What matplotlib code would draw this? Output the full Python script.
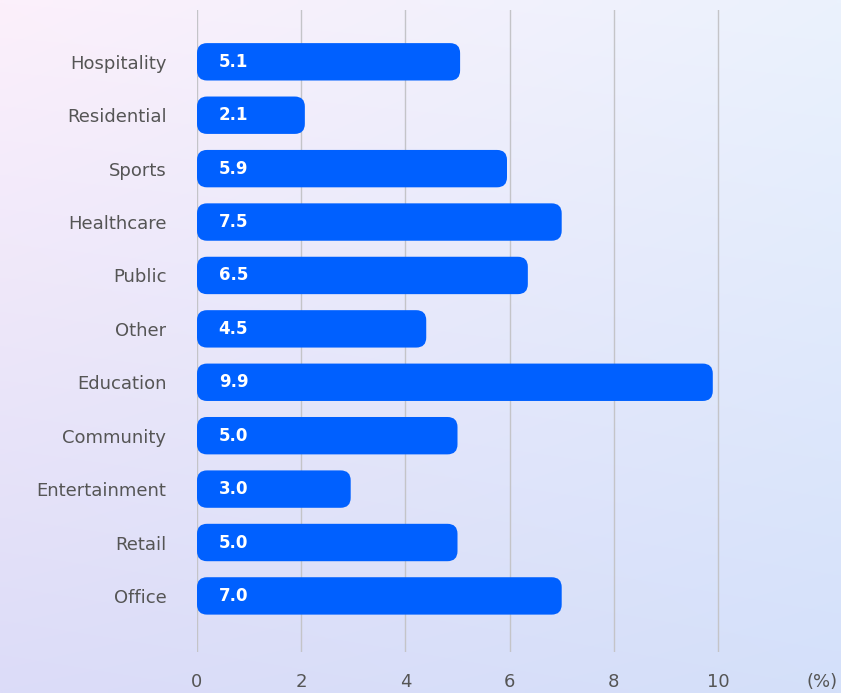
import numpy as np
import matplotlib
matplotlib.use("Agg")
import matplotlib.pyplot as plt
from matplotlib.patches import FancyBboxPatch

categories = ["Office", "Retail", "Entertainment", "Community", "Education", "Other",
              "Public", "Healthcare", "Sports", "Residential", "Hospitality"]
bar_values = [7.0, 5.0, 2.95, 5.0, 9.9, 4.4, 6.35, 7.0, 5.95, 2.07, 5.05]
value_labels = ["7.0", "5.0", "3.0", "5.0", "9.9", "4.5", "6.5", "7.5", "5.9", "2.1", "5.1"]
x_ticks = [0, 2, 4, 6, 8, 10]

plt.rcParams['font.family'] = ['DejaVu Sans']

W, H = 841, 693
fig = plt.figure(figsize=(W / 100, H / 100), dpi=100)

# gradient background
bg = fig.add_axes([0, 0, 1, 1], zorder=-10)
tl = np.array([252, 240, 251]) / 255
tr = np.array([235, 242, 253]) / 255
bl = np.array([220, 220, 248]) / 255
br = np.array([212, 224, 250]) / 255
ny, nx = 100, 100
yy, xx = np.mgrid[0:1:ny * 1j, 0:1:nx * 1j]
img = (tl[None, None, :] * ((1 - xx) * (1 - yy))[..., None]
       + tr[None, None, :] * (xx * (1 - yy))[..., None]
       + bl[None, None, :] * ((1 - xx) * yy)[..., None]
       + br[None, None, :] * (xx * yy)[..., None])
bg.imshow(img, aspect='auto', extent=[0, 1, 0, 1], interpolation='bilinear')
bg.axis('off')

px_per_x = 52.1
left = 197 / W
xmax = 11.0
width = xmax * px_per_x / W
bottom = 1 - 652 / H
top = 1 - 10 / H
ax = fig.add_axes([left, bottom, width, top - bottom])
ax.patch.set_alpha(0)
ax.set_xlim(0, xmax)
ax.set_ylim(-1.05, len(categories) - 1 + 0.97)

ypos = np.arange(len(categories))
bh = 0.70
px_per_y = (652 - 10) / (len(categories) - 1 + 0.97 + 1.05)
r = 10 / px_per_x
for y, v, lab in zip(ypos, bar_values, value_labels):
    p = FancyBboxPatch((0, y - bh / 2), v, bh,
                       boxstyle=f"round,pad=0,rounding_size={r}",
                       mutation_aspect=px_per_x / px_per_y,
                       facecolor="#0060FF", edgecolor="none", zorder=3)
    ax.add_patch(p)
    ax.text(0.70, y, lab, ha='center', va='center', color='white',
            fontsize=12, fontweight='bold', zorder=4)

ax.set_xticks(x_ticks)
ax.set_xticklabels([str(t) for t in x_ticks])
ax.set_yticks(ypos)
ax.set_yticklabels(categories)
ax.tick_params(axis='x', length=0, pad=15, labelsize=13, labelcolor='#555555')
ax.tick_params(axis='y', length=0, pad=22, labelsize=13, labelcolor='#555555')
ax.grid(axis='x', color='#c4c4c8', linewidth=1.0, zorder=0)
ax.set_axisbelow(True)
for s in ax.spines.values():
    s.set_visible(False)

fig.text(822 / W, 1 - 682 / H, "(%)", ha='center', va='center',
         fontsize=13, color='#555555')

fig.savefig("out.png", dpi=100)
